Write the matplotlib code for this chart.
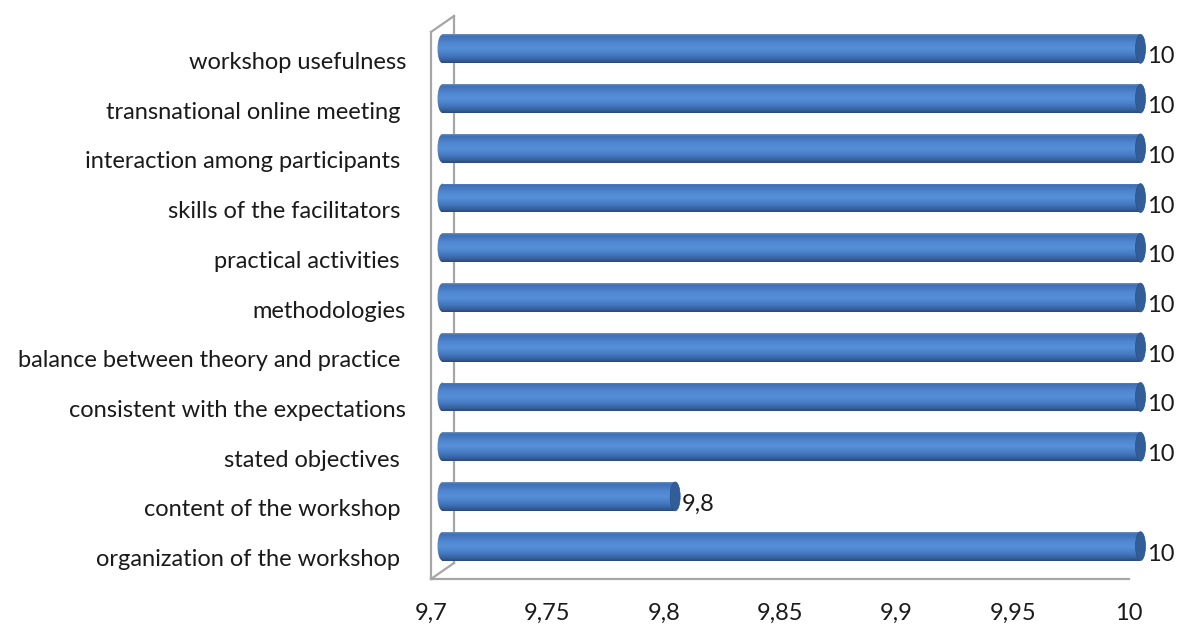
import matplotlib
matplotlib.use("Agg")
import matplotlib.pyplot as plt
import numpy as np
from matplotlib.colors import LinearSegmentedColormap
from matplotlib.patches import Ellipse
from matplotlib.lines import Line2D
import matplotlib.transforms as mtransforms

categories = [
    "workshop usefulness",
    "transnational online meeting ",
    "interaction among participants ",
    "skills of the facilitators ",
    "practical activities ",
    "methodologies",
    "balance between theory and practice ",
    "consistent with the expectations",
    "stated objectives ",
    "content of the workshop ",
    "organization of the workshop ",
]
values = [10, 10, 10, 10, 10, 10, 10, 10, 10, 9.8, 10]
xticks = [9.7, 9.75, 9.8, 9.85, 9.9, 9.95, 10.0]
xmin, xmax = 9.7, 10.0

W, H = 1177, 626
FONT = "Lato"
FS = 17
fig = plt.figure(figsize=(W / 100, H / 100), dpi=100)

# front plane in pixels
fx0, fx1, fy_top, fy_bot = 431, 1129, 32, 579
ax = fig.add_axes([fx0 / W, (H - fy_bot) / H, (fx1 - fx0) / W, (fy_bot - fy_top) / H])
ax.set_facecolor("none")
for s in ax.spines.values():
    s.set_visible(False)

n = len(categories)
ypos = np.arange(n)[::-1]

# depth offset of the bars (half of the wall depth)
dx, dy = 11.5, 8.0
trans = ax.transData + mtransforms.ScaledTranslation(dx / 100, dy / 100, fig.dpi_scale_trans)

cmap = LinearSegmentedColormap.from_list(
    "cyl",
    [(0.0, "#6f8fbf"), (0.06, "#3e6fb4"), (0.3, "#4f86d0"), (0.5, "#5690d8"),
     (0.75, "#4478bf"), (0.92, "#345c98"), (1.0, "#2b4a7a")],
)
grad = np.linspace(0, 1, 64).reshape(-1, 1)

bh = 0.58
cap_w = 10 * (xmax - xmin) / (fx1 - fx0)

for y, v in zip(ypos, values):
    bars = ax.barh([y], [v - xmin], left=xmin, height=bh, color="none",
                   edgecolor="none", transform=trans)
    rect = bars.patches[0]
    im = ax.imshow(grad, cmap=cmap, aspect="auto", interpolation="bilinear",
                   extent=(xmin - cap_w, v, y - bh / 2, y + bh / 2),
                   origin="upper", transform=trans)
    im.set_clip_path(rect)
    # rounded left end
    lc = Ellipse((xmin, y), cap_w, bh, transform=trans, facecolor="none",
                 edgecolor="none", clip_on=False)
    ax.add_patch(lc)
    im2 = ax.imshow(grad, cmap=cmap, aspect="auto", interpolation="bilinear",
                    extent=(xmin - cap_w, xmin + cap_w, y - bh / 2, y + bh / 2),
                    origin="upper", transform=trans)
    im2.set_clip_box(None)
    im2.set_clip_path(lc)
    # right end cap
    rc = Ellipse((v, y), cap_w, bh, transform=trans, facecolor="#335d96",
                 edgecolor="#2c5082", linewidth=0.5, zorder=3, clip_on=False)
    ax.add_patch(rc)
    label = f"{v:g}".replace(".", ",")
    ax.annotate(label, xy=(v, y), xycoords=trans, xytext=(7, -8),
                textcoords="offset pixels", ha="left", va="center",
                fontsize=FS, family=FONT, color="#1a1a1a", annotation_clip=False)

ax.set_xlim(xmin, xmax)
ax.set_ylim(-0.5, n - 0.5)
ax.set_xticks(xticks)
ax.set_xticklabels([f"{t:g}".replace(".", ",") for t in xticks], family=FONT,
                   fontsize=FS, color="#1a1a1a")
ax.tick_params(axis="x", length=0, pad=17)
ax.set_yticks([])

ylab_trans = mtransforms.blended_transform_factory(ax.transAxes, ax.transData) + \
    mtransforms.ScaledTranslation(-25 / 100, -12 / 100, fig.dpi_scale_trans)
for y, c in zip(ypos, categories):
    ax.text(0, y, c, transform=ylab_trans, ha="right", va="baseline",
            fontsize=FS, family=FONT, color="#1a1a1a", clip_on=False)

# 3D wall / floor lines (pixel layout)
def P(x, y):
    return (x / W, (H - y) / H)

bdx, bdy = 23, 16
lines = [
    [(fx0, fy_top), (fx0, fy_bot)],
    [(fx0, fy_bot), (fx1, fy_bot)],
    [(fx0, fy_top), (fx0 + bdx, fy_top - bdy)],
    [(fx0 + bdx, fy_top - bdy), (fx0 + bdx, fy_bot - bdy)],
    [(fx0, fy_bot), (fx0 + bdx, fy_bot - bdy)],
]
for seg in lines:
    (x0, y0), (x1, y1) = P(*seg[0]), P(*seg[1])
    fig.add_artist(Line2D([x0, x1], [y0, y1], transform=fig.transFigure,
                          color="#a6a6a6", linewidth=1.6, zorder=0))

fig.savefig("out.png", dpi=100, facecolor="white")
